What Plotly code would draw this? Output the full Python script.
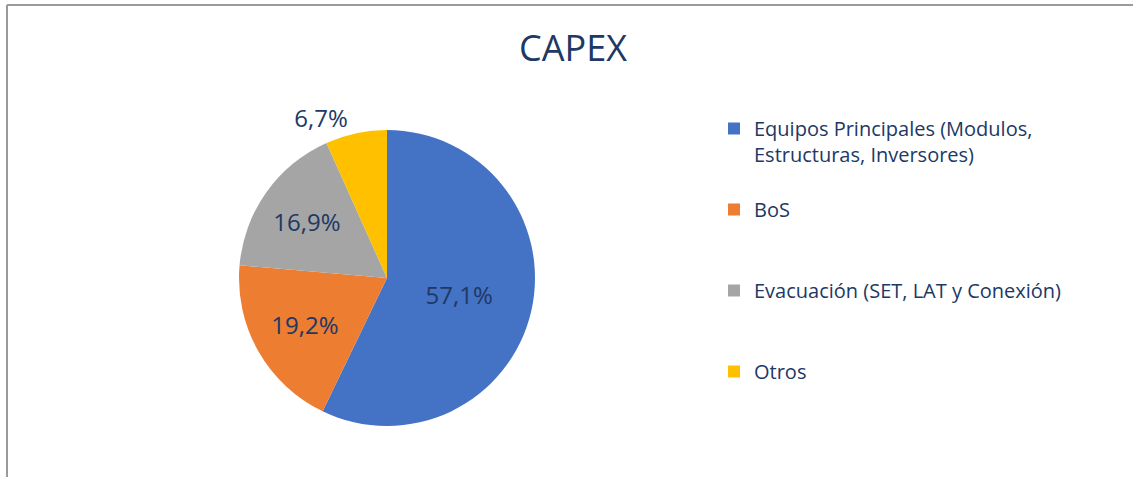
import plotly.graph_objects as go

categories = ["Equipos Principales (Modulos,<br>Estructuras, Inversores)",
              "BoS",
              "Evacuación (SET, LAT y Conexión)",
              "Otros"]
values = [57.1, 19.2, 16.9, 6.7]
colors = ["#4472C4", "#ED7D31", "#A5A5A5", "#FFC000"]

W, H = 1133, 477
cx, cy, r = 387, 278, 148
navy = "#203864"
font = "Open Sans"


def legend_label(name):
    # pad every entry to three lines so entries are evenly spaced like the reference
    n = name.count("<br>") + 1
    return name + "<br> " * (3 - n)


fig = go.Figure(go.Pie(
    labels=[legend_label(c) for c in categories], values=values, sort=False,
    direction="clockwise", rotation=0,
    marker=dict(colors=colors, line=dict(color="white", width=0)),
    texttemplate="%{value:.1f}%",
    textposition=["inside", "inside", "inside", "outside"],
    insidetextorientation="horizontal",
    textfont=dict(family=font, size=24, color=navy),
    domain=dict(x=[(cx - r) / W, (cx + r) / W], y=[1 - (cy + r) / H, 1 - (cy - r) / H]),
    hoverinfo="skip",
))

fig.update_layout(
    width=W, height=H, margin=dict(l=0, r=0, t=0, b=0),
    paper_bgcolor="white", plot_bgcolor="white",
    separators=",.",
    title=dict(text="CAPEX", x=573 / W, xanchor="center", y=1 - 48 / H, yanchor="middle",
               font=dict(family=font, size=36, color=navy)),
    legend=dict(x=714 / W, y=1 - 109 / H, xanchor="left", yanchor="top", valign="top",
                font=dict(family=font, size=20, color=navy), itemwidth=30,
                bgcolor="rgba(0,0,0,0)"),
    shapes=[
        dict(type="line", xref="paper", yref="paper", x0=7 / W, x1=1, y0=1 - 5 / H, y1=1 - 5 / H,
             line=dict(color="#9a9a9a", width=2)),
        dict(type="line", xref="paper", yref="paper", x0=7 / W, x1=7 / W, y0=0, y1=1 - 5 / H,
             line=dict(color="#9a9a9a", width=2)),
    ],
)

fig.write_html("out.html")
